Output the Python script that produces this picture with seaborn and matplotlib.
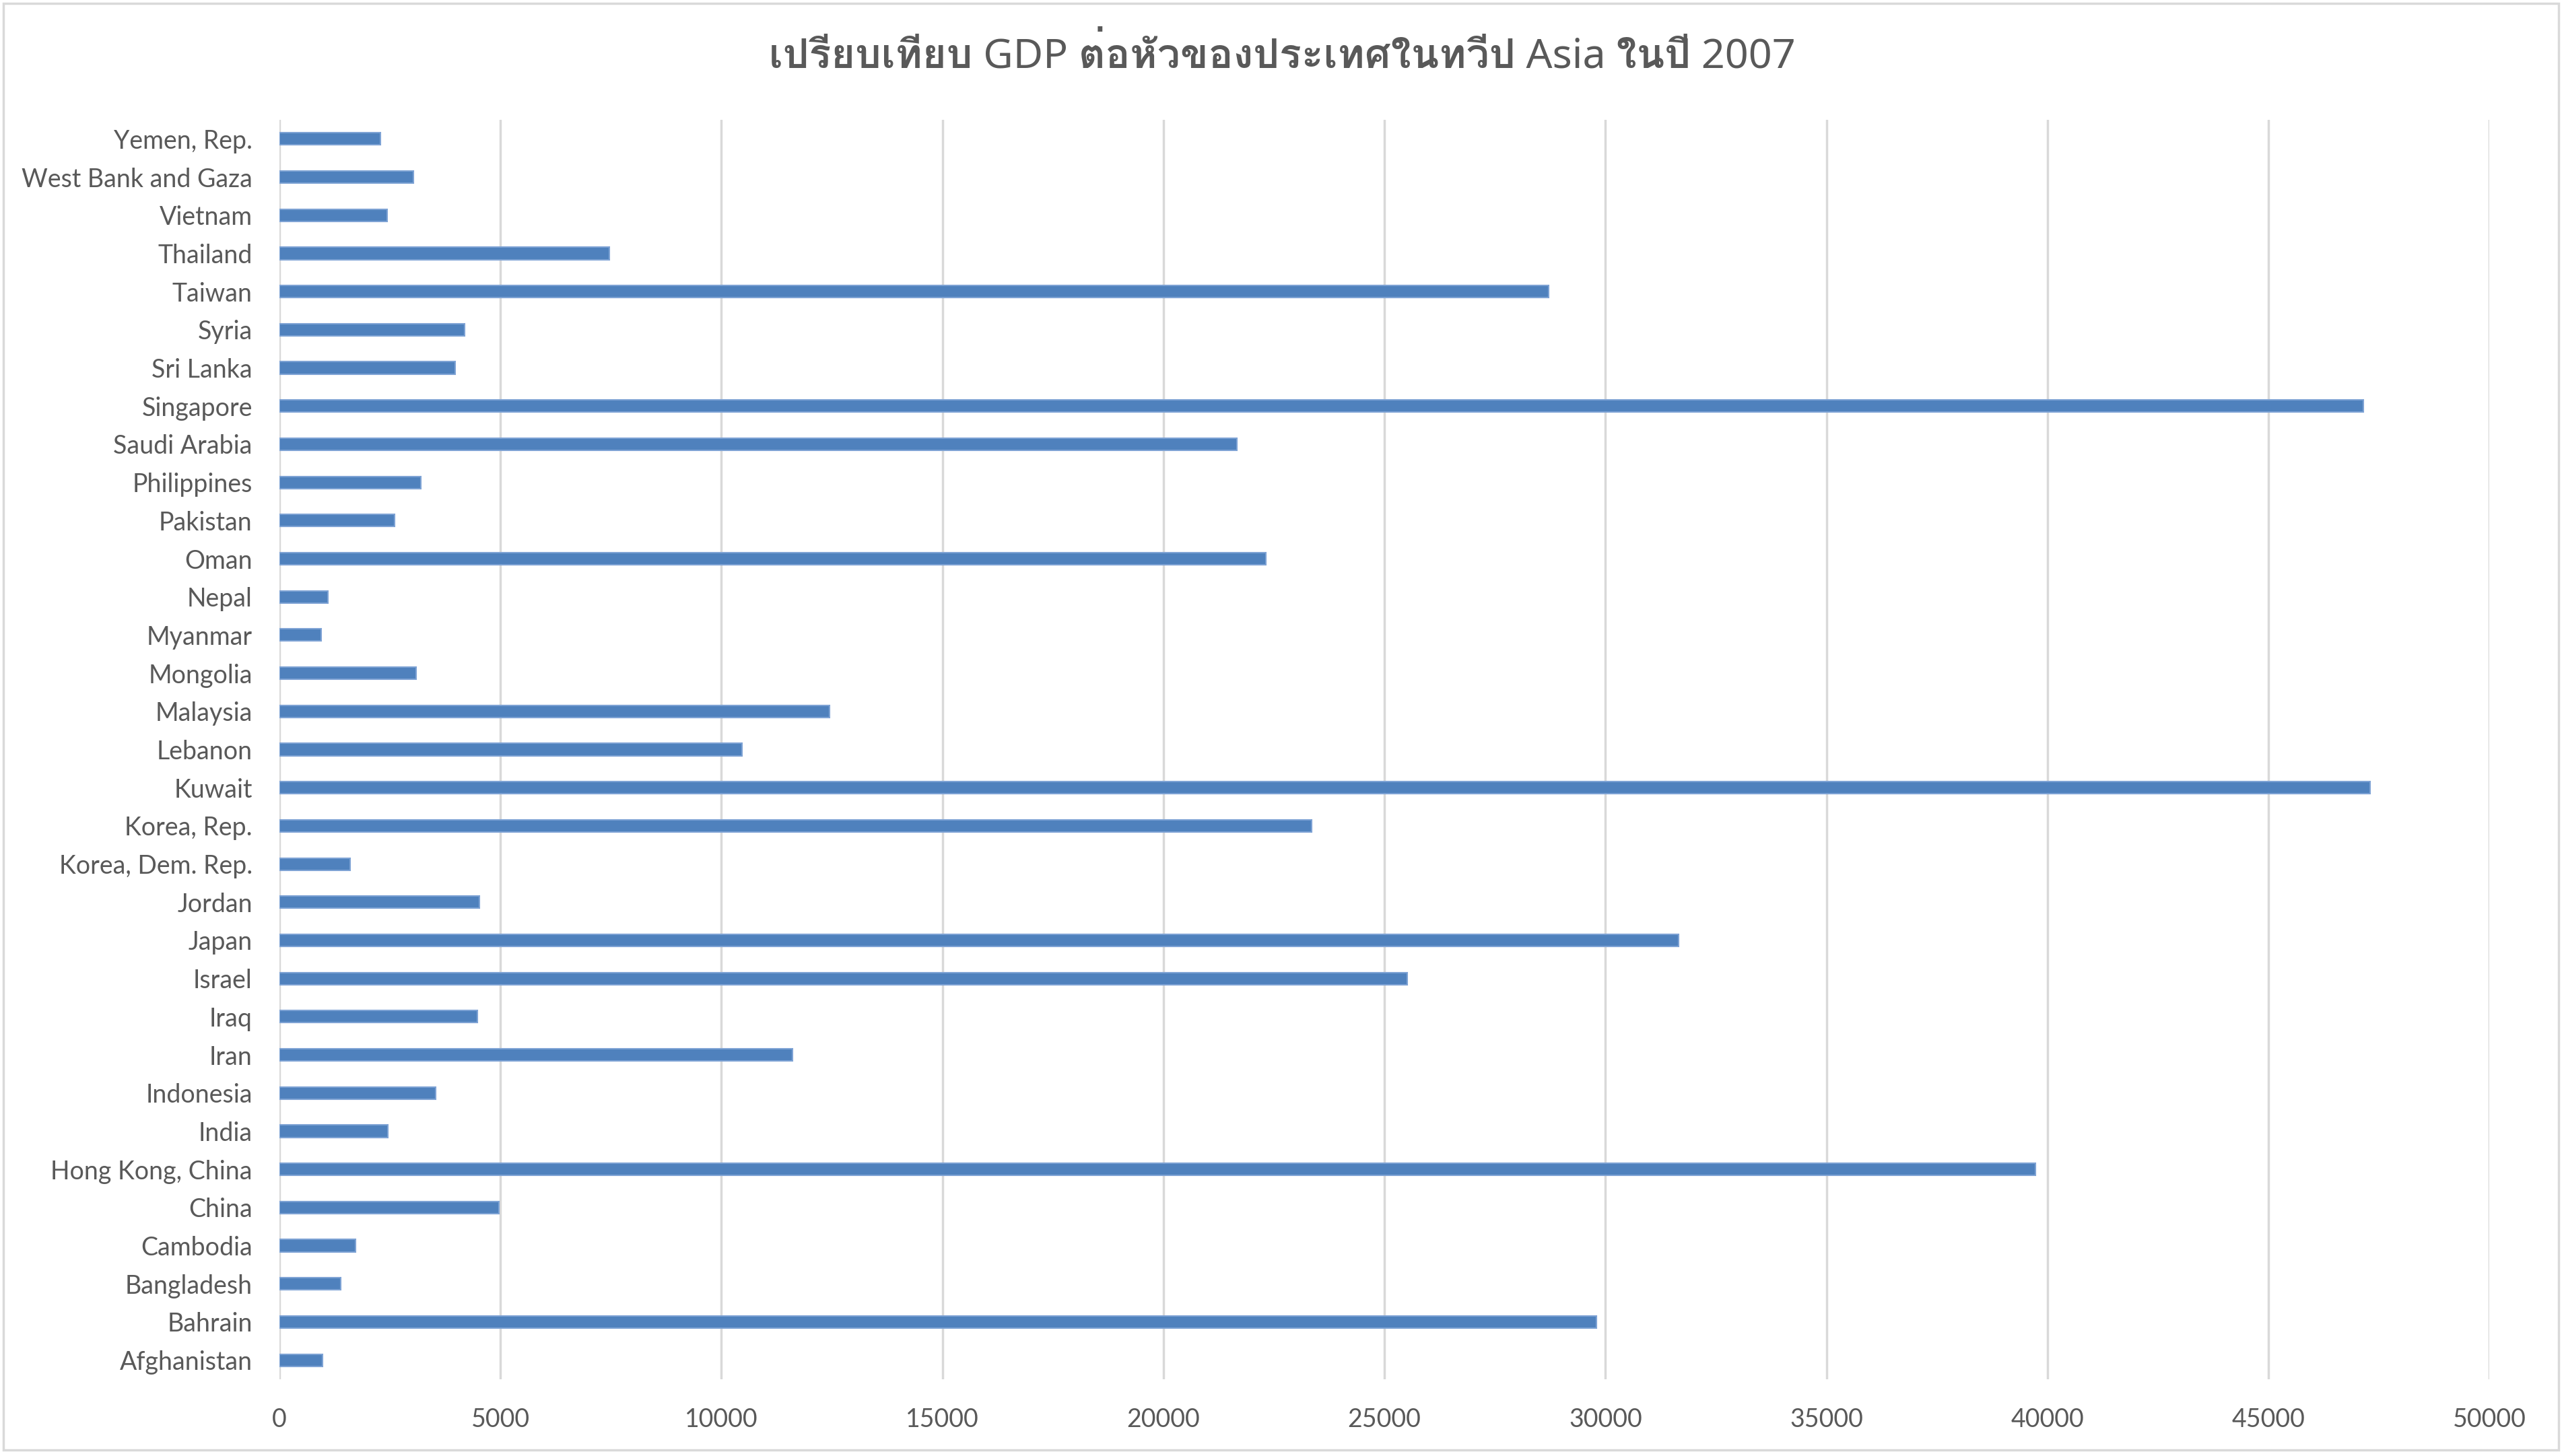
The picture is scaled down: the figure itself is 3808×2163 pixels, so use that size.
import matplotlib
matplotlib.use("Agg")
import matplotlib.pyplot as plt
from matplotlib import font_manager
from matplotlib.patches import Rectangle
import seaborn as sns
import pandas as pd

# gapminder 2007, Asia, GDP per capita
countries = ["Afghanistan", "Bahrain", "Bangladesh", "Cambodia", "China",
             "Hong Kong, China", "India", "Indonesia", "Iran", "Iraq", "Israel",
             "Japan", "Jordan", "Korea, Dem. Rep.", "Korea, Rep.", "Kuwait",
             "Lebanon", "Malaysia", "Mongolia", "Myanmar", "Nepal", "Oman",
             "Pakistan", "Philippines", "Saudi Arabia", "Singapore", "Sri Lanka",
             "Syria", "Taiwan", "Thailand", "Vietnam", "West Bank and Gaza",
             "Yemen, Rep."]
gdp_per_cap = [974.58, 29796.05, 1391.25, 1713.78, 4959.11,
               39724.98, 2452.21, 3540.65, 11605.71, 4471.06, 25523.28,
               31656.07, 4519.46, 1593.07, 23348.14, 47306.99,
               10461.06, 12451.66, 3095.77, 944.00, 1091.36, 22316.19,
               2605.95, 3190.48, 21654.83, 47143.18, 3970.10,
               4184.55, 28718.28, 7458.40, 2441.58, 3025.35,
               2280.77]
x_ticks = [0, 5000, 10000, 15000, 20000, 25000, 30000, 35000, 40000, 45000, 50000]
title = "เปรียบเทียบ GDP ต่อหัวของประเทศในทวีป Asia ในปี 2007"

df = pd.DataFrame({"country": countries, "gdp": gdp_per_cap})

sns.set_theme(style="white")

# look for any installed font that has Thai glyphs
thai_fonts = []
for f in font_manager.fontManager.ttflist:
    n = f.name
    if any(k in n for k in ["Thai", "Loma", "Garuda", "Tlwg", "Sarabun", "Kinnari", "Norasi", "Waree", "Umpush"]):
        if n not in thai_fonts:
            thai_fonts.append(n)
families = ["Lato"] + thai_fonts + ["DejaVu Sans"]
plt.rcParams["font.family"] = families

text_col = "#595959"
grid_col = "#d9d9d9"

fig = plt.figure(figsize=(38.08, 21.63), dpi=100)
ax = fig.add_axes([0.109, 0.0527, 0.8619, 0.865])

sns.barplot(data=df, x="gdp", y="country", order=countries[::-1],
            color="#4f81bd", width=0.32, edgecolor="#7da2d4", linewidth=1.5,
            saturation=1, ax=ax)

ax.set_xlim(0, 50000)
ax.set_ylim(len(countries) - 0.5, -0.5)
ax.set_xticks(x_ticks)
ax.set_xticklabels([str(t) for t in x_ticks])
ax.set_axisbelow(True)
ax.grid(axis="x", color=grid_col, linewidth=2.5)
ax.grid(axis="y", visible=False)
for s in ax.spines.values():
    s.set_visible(False)
ax.tick_params(axis="both", length=0, labelsize=27, labelcolor=text_col)
ax.tick_params(axis="x", pad=30)
ax.tick_params(axis="y", pad=29)
ax.set_xlabel("")
ax.set_ylabel("")

fig.text(0.5, 0.961, title, ha="center", va="center", fontsize=44,
         fontweight="bold", color=text_col,
         family=["Noto Sans"] + thai_fonts + ["DejaVu Sans"])

fig.patches.append(Rectangle((0.0012, 0.0042), 0.9966, 0.9935, transform=fig.transFigure,
                             fill=False, edgecolor=grid_col, linewidth=2.5))

fig.savefig("out.png", dpi=100)
